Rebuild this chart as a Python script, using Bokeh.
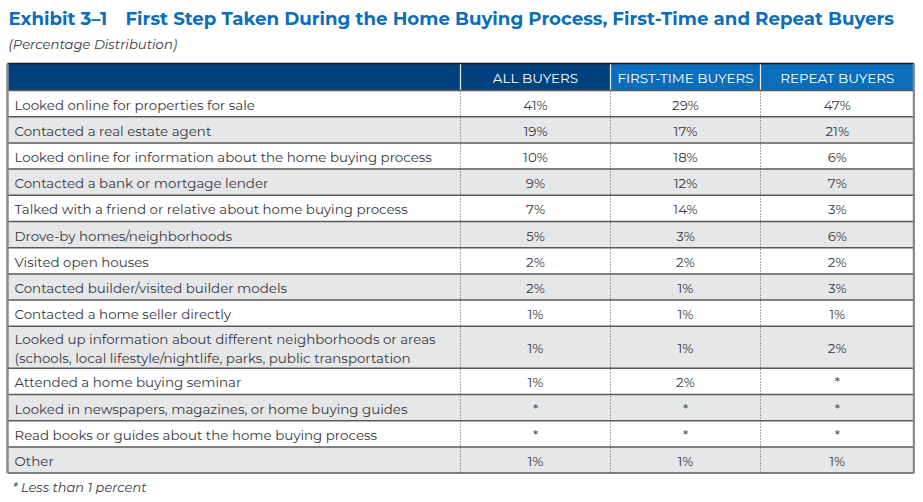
from bokeh.plotting import figure
from bokeh.models import Range1d
from bokeh.core.properties import value
from bokeh.embed import file_html
from bokeh.resources import INLINE

title_num = "Exhibit 3\u20131"
title_txt = "First Step Taken During the Home Buying Process, First-Time and Repeat Buyers"
subtitle = "(Percentage Distribution)"
footnote = "* Less than 1 percent"

columns = ["ALL BUYERS", "FIRST-TIME BUYERS", "REPEAT BUYERS"]
categories = [
    "Looked online for properties for sale",
    "Contacted a real estate agent",
    "Looked online for information about the home buying process",
    "Contacted a bank or mortgage lender",
    "Talked with a friend or relative about home buying process",
    "Drove-by homes/neighborhoods",
    "Visited open houses",
    "Contacted builder/visited builder models",
    "Contacted a home seller directly",
    "Looked up information about different neighborhoods or areas\n(schools, local lifestyle/nightlife, parks, public transportation",
    "Attended a home buying seminar",
    "Looked in newspapers, magazines, or home buying guides",
    "Read books or guides about the home buying process",
    "Other",
]
all_buyers = [41, 19, 10, 9, 7, 5, 2, 2, 1, 1, 1, None, None, 1]
first_time = [29, 17, 18, 12, 14, 3, 2, 1, 1, 1, 2, None, None, 1]
repeat_buyers = [47, 21, 6, 7, 3, 6, 2, 3, 1, 2, None, None, None, 1]

FONT = "Montserrat, Open Sans"
TXT = "#383842"

def fmt(v):
    return "*" if v is None else f"{v}%"

p = figure(width=915, height=494, output_backend="svg", toolbar_location=None,
           x_range=Range1d(0, 915), y_range=Range1d(494, 0),
           min_border=0, outline_line_color=None)
p.axis.visible = False
p.grid.visible = False

# layout geometry (pixels)
x0, x1 = 7, 913.5
col_edges = [460, 610, 760, 913.5]
hdr_top, hdr_bot = 63, 90
row_h, row_h2 = 26.2, 42

tops, bots = [], []
y = hdr_bot
for c in categories:
    h = row_h2 if "\n" in c else row_h
    tops.append(y)
    bots.append(y + h)
    y += h
table_bot = y

# header cells
p.quad(left=[x0, col_edges[0], col_edges[1], col_edges[2]],
       right=[col_edges[0], col_edges[1], col_edges[2], x1],
       top=[hdr_top] * 4, bottom=[hdr_bot] * 4,
       fill_color=["#00417e", "#00417e", "#0a6ebd", "#0a6ebd"], line_color=None)
p.segment(x0=col_edges[:3], x1=col_edges[:3], y0=[hdr_top] * 3, y1=[hdr_bot] * 3,
          line_color="#e8eef4", line_width=1.2)
p.segment(x0=[x0], x1=[x1], y0=[hdr_top], y1=[hdr_top], line_color="#1a1a2a", line_width=1.5)

# body rows
fills = ["#ffffff" if i % 2 == 0 else "#e6e7e8" for i in range(len(categories))]
p.quad(left=[x0] * len(categories), right=[x1] * len(categories), top=tops, bottom=bots,
       fill_color=fills, line_color=None)
ys = [hdr_bot] + bots
p.segment(x0=[x0] * len(ys), x1=[x1] * len(ys), y0=ys, y1=ys, line_color="#5a5a5a", line_width=1.5)
p.segment(x0=col_edges[:3], x1=col_edges[:3], y0=[hdr_bot] * 3, y1=[table_bot] * 3,
          line_color="#555555", line_width=1, line_dash="1 2")
p.segment(x0=[x0, x1], x1=[x0, x1], y0=[hdr_top, hdr_top], y1=[table_bot, table_bot],
          line_color="#8a8a8a", line_width=2.5)

# header texts
centers = [(col_edges[i] + col_edges[i + 1]) / 2 for i in range(3)]
p.text(x=centers, y=[(hdr_top + hdr_bot) / 2 + 1] * 3, text=columns,
       text_color="white", text_font=value(FONT), text_font_size="13.5px",
       text_align="center", text_baseline="middle")

mids = [(t + b) / 2 + 1 for t, b in zip(tops, bots)]
p.text(x=[14] * len(categories), y=mids, text=categories,
       text_color=TXT, text_font=value(FONT), text_font_size="13.4px",
       text_align="left", text_baseline="middle", text_line_height=1.2)

for ci, series in enumerate([all_buyers, first_time, repeat_buyers]):
    p.text(x=[centers[ci]] * len(series), y=mids, text=[fmt(v) for v in series],
           text_color=TXT, text_font=value(FONT), text_font_size="13.4px",
           text_align="center", text_baseline="middle")

# titles
p.text(x=[8], y=[18], text=[title_num], text_color="#0a6ebd", text_font=value(FONT),
       text_font_size="18.2px", text_font_style="bold", text_baseline="middle")
p.text(x=[125], y=[18], text=[title_txt], text_color="#0a6ebd", text_font=value(FONT),
       text_font_size="18.2px", text_font_style="bold", text_baseline="middle")
p.text(x=[8], y=[43], text=[subtitle], text_color=TXT, text_font=value(FONT),
       text_font_size="13.2px", text_font_style="italic", text_baseline="middle")
p.text(x=[12], y=[486], text=[footnote], text_color=TXT, text_font=value(FONT),
       text_font_size="13px", text_font_style="italic", text_baseline="middle")

open("out.html", "w").write(file_html(p, INLINE))
